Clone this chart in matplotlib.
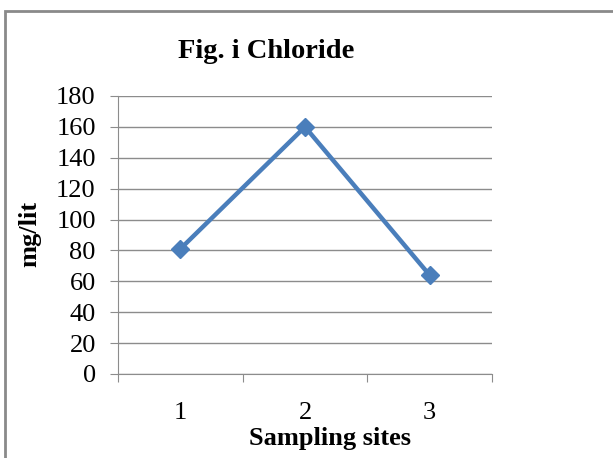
import matplotlib.pyplot as plt
from matplotlib.patches import Rectangle
from matplotlib.ticker import FixedLocator, NullFormatter

sites = [1, 2, 3]
site_labels = ["1", "2", "3"]
chloride = [81, 160, 64]
yticks = [0, 20, 40, 60, 80, 100, 120, 140, 160, 180]

plt.rcParams['font.family'] = ['Liberation Serif', 'DejaVu Serif']

fig = plt.figure(figsize=(6.13, 4.58), dpi=100)
fig.patches.append(Rectangle((5 / 613, 0 - 0.05), 1.2, 1 - 11 / 458 + 0.05,
                             transform=fig.transFigure, fill=False,
                             edgecolor="#8a8a8a", linewidth=2))

ax = fig.add_axes([118 / 613, 1 - 374 / 458, (492 - 118) / 613, (374 - 96) / 458])

ax.plot(sites, chloride, color="#4a7ebb", linewidth=3.2, marker="D",
        markersize=9, markerfacecolor="#4a7ebb", markeredgecolor="#4a7ebb")

ax.set_xlim(0.5, 3.5)
ax.set_ylim(0, 180)
ax.set_yticks(yticks)
ax.yaxis.grid(True, color="#8c8c8c", linewidth=1)
ax.set_axisbelow(True)

ax.xaxis.set_major_locator(FixedLocator([0.5, 1.5, 2.5, 3.5]))
ax.xaxis.set_major_formatter(NullFormatter())
ax.xaxis.set_minor_locator(FixedLocator(sites))
ax.set_xticklabels(site_labels, minor=True)
ax.tick_params(axis="x", which="major", length=6, color="#8c8c8c", direction="out")
ax.tick_params(axis="x", which="minor", length=0, pad=20, labelsize=19)
ax.tick_params(axis="y", length=6, color="#8c8c8c", direction="out", labelsize=19, pad=10)

for s in ["top", "right"]:
    ax.spines[s].set_visible(False)
for s in ["left", "bottom"]:
    ax.spines[s].set_color("#8c8c8c")

fig.text(266 / 613, 1 - 51 / 458, "Fig. i Chloride", fontsize=20.5, fontweight="bold",
         ha="center", va="center")
fig.text(330 / 613, 1 - 438 / 458, "Sampling sites", fontsize=19, fontweight="bold",
         ha="center", va="center")
fig.text(30 / 613, 1 - 234 / 458, "mg/lit", fontsize=19, fontweight="bold",
         ha="center", va="center", rotation=90)

fig.savefig("out.png", dpi=100)
